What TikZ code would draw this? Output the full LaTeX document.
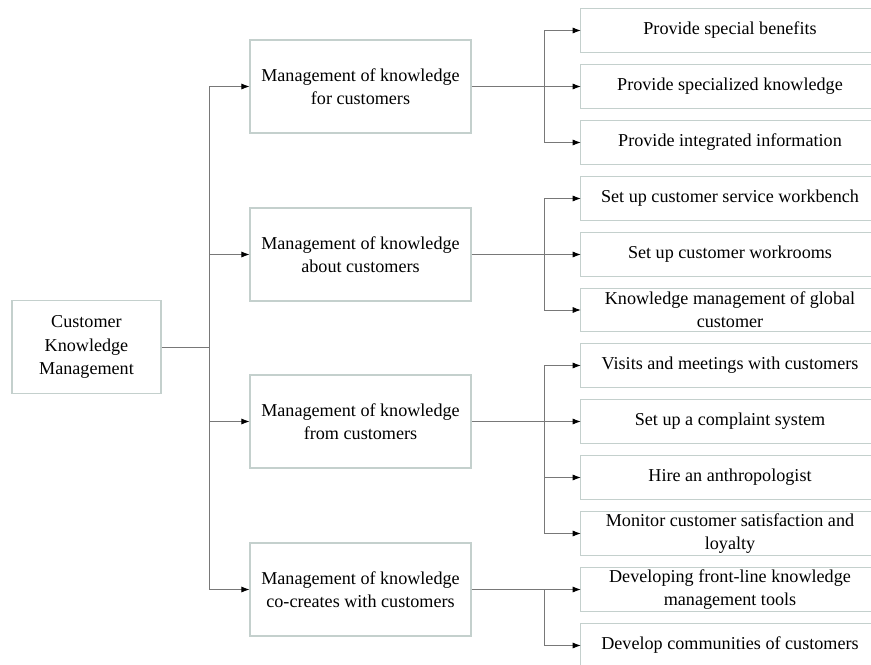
\documentclass[tikz,border=0pt]{standalone}
\usepackage{fontspec}
\setmainfont{Liberation Serif}
\usetikzlibrary{arrows.meta}
\definecolor{boxline}{RGB}{196,208,205}
\definecolor{linkline}{RGB}{120,120,120}
\tikzset{
every node/.style={ % text of all boxes
font=\fontsize{13.6}{17.5}\selectfont,
align=center,
inner sep=1pt},
rootbox/.style={draw=boxline, line width=0.8pt,
minimum width=111.75pt, minimum height=69.75pt},
midbox/.style={draw=boxline, line width=0.8pt,
minimum width=165.75pt, minimum height=69.75pt},
leafbox/.style={minimum width=223.5pt, minimum height=32.25pt},
leafframe/.style={draw=boxline, line width=0.8pt}, % leaf boxes run past the right edge
link/.style={draw=linkline, line width=0.6pt},
arrowlink/.style={ % connectors ending on a box
link,
-{Latex[length=6pt,width=4.5pt,color=black]}}}

\begin{document}
\begin{tikzpicture}[x=0.75pt, y=-0.75pt]
\useasboundingbox (0,0) rectangle (871,664);
% root and second level
\node[rootbox] (root) at (86.5,347) {Customer\\Knowledge\\Management};
\node[midbox] (m1) at (360.5,86.5) {Management of knowledge\\for customers};
\node[midbox] (m2) at (360.5,254.5) {Management of knowledge\\about customers};
\node[midbox] (m3) at (360.5,421.5) {Management of knowledge\\from customers};
\node[midbox] (m4) at (360.5,589.5) {Management of knowledge\\co-creates with customers};
% third level
\node[leafbox] (r11) at (730,30.5) {Provide special benefits};
\node[leafbox] (r12) at (730,86.5) {Provide specialized knowledge};
\node[leafbox] (r13) at (730,142.5) {Provide integrated information};
\node[leafbox] (r21) at (730,198.5) {Set up customer service workbench};
\node[leafbox] (r22) at (730,254.5) {Set up customer workrooms};
\node[leafbox] (r23) at (730,310) {Knowledge management of global\\customer};
\node[leafbox] (r31) at (730,365.5) {Visits and meetings with customers};
\node[leafbox] (r32) at (730,421.5) {Set up a complaint system};
\node[leafbox] (r33) at (730,477.5) {Hire an anthropologist};
\node[leafbox] (r34) at (730,533.5) {Monitor customer satisfaction and\\loyalty};
\node[leafbox] (r41) at (730,589.5) {Developing front-line knowledge\\management tools};
\node[leafbox] (r42) at (730,645.5) {Develop communities of customers};
\foreach \r in {r11,r12,r13,r21,r22,r23,r31,r32,r33,r34,r41,r42}
  \draw[leafframe] (\r.north west) rectangle ([xshift=30pt]\r.south east);
% trunks
\coordinate (ta) at (209,0);
\coordinate (tb) at (544,0);
\draw[link] (root.east) -- (root.east -| ta);
\draw[link] (m1.west -| ta) -- (m4.west -| ta);
\foreach \m in {m1,m2,m3,m4}
  \draw[arrowlink] (\m.west -| ta) -- (\m.west);
\draw[link] (m1.east) -- (m1.east -| tb);
\draw[link] (m2.east) -- (m2.east -| tb);
\draw[link] (m3.east) -- (m3.east -| tb);
\draw[link] (m4.east) -- (m4.east -| tb);
\draw[link] (r11.west -| tb) -- (r13.west -| tb);
\draw[link] (r21.west -| tb) -- (r23.west -| tb);
\draw[link] (r31.west -| tb) -- (r34.west -| tb);
\draw[link] (r41.west -| tb) -- (r42.west -| tb);
\foreach \r in {r11,r12,r13,r21,r22,r23,r31,r32,r33,r34,r41,r42}
  \draw[arrowlink] (\r.west -| tb) -- (\r.west);
\end{tikzpicture}
\end{document}
